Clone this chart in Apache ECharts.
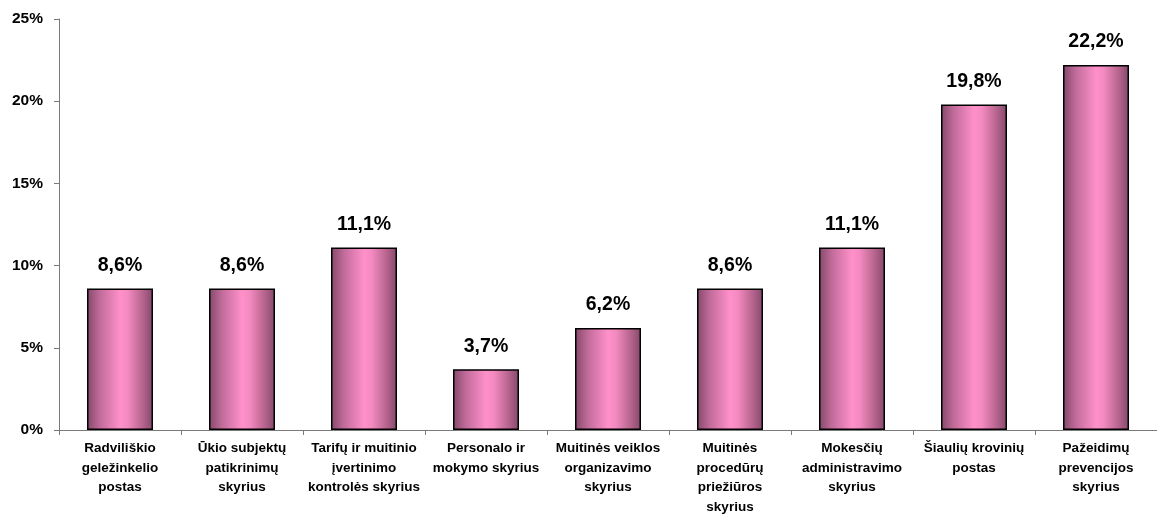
<!DOCTYPE html>
<html>
<head>
<meta charset="utf-8">
<script src="https://cdn.jsdelivr.net/npm/echarts@6/dist/echarts.min.js"></script>
<style>
  html, body { margin: 0; padding: 0; background: #fff; }
  #chart { width: 1157px; height: 519px; }
</style>
</head>
<body>
<div id="chart"></div>
<script>
// Department names (line breaks as printed under the bars)
const categories = [
  'Radviliškio\ngeležinkelio\npostas',
  'Ūkio subjektų\npatikrinimų\nskyrius',
  'Tarifų ir muitinio\nįvertinimo\nkontrolės skyrius',
  'Personalo ir\nmokymo skyrius',
  'Muitinės veiklos\norganizavimo\nskyrius',
  'Muitinės\nprocedūrų\npriežiūros\nskyrius',
  'Mokesčių\nadministravimo\nskyrius',
  'Šiaulių krovinių\npostas',
  'Pažeidimų\nprevencijos\nskyrius'
];

// Share of each department, percent
const shares = [8.6, 8.6, 11.1, 3.7, 6.2, 8.6, 11.1, 19.8, 22.2];

// Value axis ticks, percent
const yTicks = [0, 5, 10, 15, 20, 25];

const font = 'Liberation Sans, Arial, sans-serif';

const barFill = new echarts.graphic.LinearGradient(0, 0, 1, 0, [
  { offset: 0, color: '#84496a' },
  { offset: 0.2, color: '#c26c9b' },
  { offset: 0.5, color: '#ff90ca' },
  { offset: 0.62, color: '#f38ac0' },
  { offset: 0.85, color: '#b4638c' },
  { offset: 1, color: '#84496a' }
]);

const chart = echarts.init(document.getElementById('chart'));
chart.setOption({
  animation: false,
  grid: { left: 59, right: -9, top: 19, bottom: 89 },
  xAxis: {
    type: 'category',
    data: categories,
    axisLine: { lineStyle: { color: '#7a7a7a', width: 1 } },
    axisTick: { show: true, alignWithLabel: false, length: 5, lineStyle: { color: '#7a7a7a' } },
    axisLabel: {
      interval: 0,
      margin: 9,
      color: '#000',
      fontFamily: font,
      fontWeight: 'bold',
      fontSize: 13.5,
      lineHeight: 19.5
    }
  },
  yAxis: {
    type: 'value',
    min: yTicks[0],
    max: yTicks[yTicks.length - 1],
    interval: 5,
    splitLine: { show: false },
    axisLine: { show: true, lineStyle: { color: '#7a7a7a', width: 1 } },
    axisTick: { show: true, length: 5, lineStyle: { color: '#7a7a7a' } },
    axisLabel: {
      margin: 16,
      color: '#000',
      fontFamily: font,
      fontWeight: 'bold',
      fontSize: 15.5,
      formatter: v => v + '%'
    }
  },
  series: [{
    type: 'bar',
    data: shares,
    barWidth: 66,
    itemStyle: { color: barFill, borderColor: '#000', borderWidth: 1.5 },
    label: {
      show: true,
      position: 'top',
      distance: 13,
      color: '#000',
      fontFamily: font,
      fontWeight: 'bold',
      fontSize: 19.5,
      formatter: p => p.value.toFixed(1).replace('.', ',') + '%'
    }
  }]
});
</script>
</body>
</html>
